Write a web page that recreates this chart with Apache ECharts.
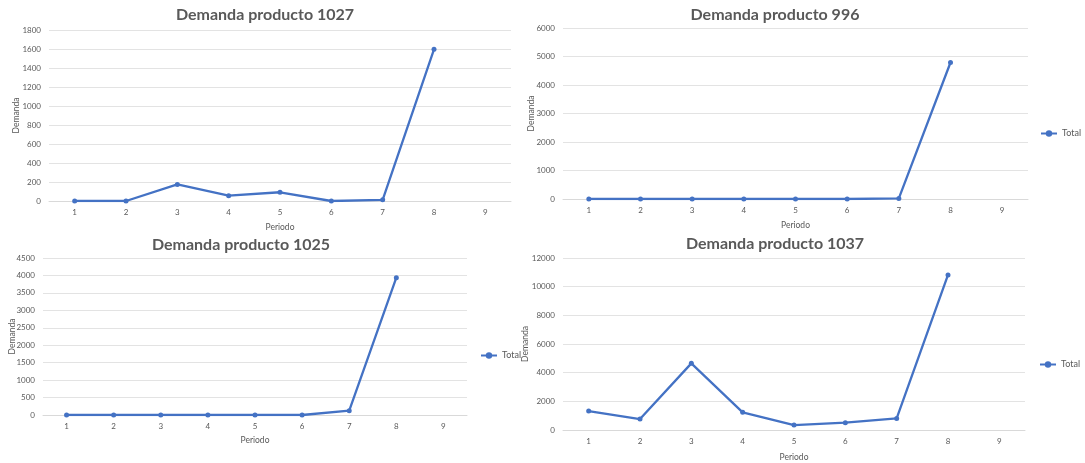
<!DOCTYPE html>
<html>
<head>
<meta charset="utf-8">
<script src="https://cdn.jsdelivr.net/npm/echarts@6/dist/echarts.min.js"></script>
<style>
  html, body { margin: 0; padding: 0; background: #ffffff; }
  #chart { width: 1085px; height: 463px; }
</style>
</head>
<body>
<div id="chart"></div>
<script>
// Periods shared by all four panels
const periodos = ['1', '2', '3', '4', '5', '6', '7', '8', '9'];

// Demand per period (period 9 has no data yet)
const demanda1027 = [0, 0, 175, 56, 92, 0, 12, 1597, null];
const demanda996  = [0, 0, 0, 0, 0, 0, 20, 4790, null];
const demanda1025 = [0, 0, 0, 0, 0, 0, 125, 3935, null];
const demanda1037 = [1320, 765, 4650, 1230, 345, 510, 810, 10820, null];

const titulos = ['Demanda producto 1027', 'Demanda producto 996', 'Demanda producto 1025', 'Demanda producto 1037'];
const series = [demanda1027, demanda996, demanda1025, demanda1037];
const yMax = [1800, 6000, 4500, 12000];
const yStep = [200, 1000, 500, 2000];

// Panel placement: plot box, title centre, axis-name gaps, legend spot
const panels = [
  { left: 49,  top: 30,  width: 462, height: 171, tx: 260, ty: 2,   xGap: 22, yGap: 28, legend: null },
  { left: 563, top: 28,  width: 465, height: 171, tx: 770, ty: 2,   xGap: 22, yGap: 27, legend: { left: 1035, top: 124 } },
  { left: 43,  top: 258, width: 424, height: 157, tx: 236, ty: 232, xGap: 21, yGap: 26, legend: { left: 475, top: 346 } },
  { left: 563, top: 258, width: 462, height: 173, tx: 770, ty: 231, xGap: 23, yGap: 33, legend: { left: 1034, top: 355 } }
];

const FONT = 'Lato, "Open Sans", sans-serif';
const GRAY = '#595959';
const BLUE = '#4472C4';

const option = {
  backgroundColor: '#ffffff',
  animation: false,
  title: panels.map((p, i) => ({
    text: titulos[i],
    left: p.tx,
    top: p.ty,
    textAlign: 'center',
    textStyle: { fontFamily: FONT, fontSize: 16, fontWeight: 'bold', color: GRAY }
  })),
  legend: panels.map((p, i) => p.legend ? ({
    data: ['Total' + i],
    left: p.legend.left,
    top: p.legend.top,
    itemWidth: 16,
    itemHeight: 8,
    itemGap: 2,
    formatter: () => 'Total',
    textStyle: { fontFamily: FONT, fontSize: 9, color: GRAY }
  }) : ({ show: false, data: [] })),
  grid: panels.map(p => ({ left: p.left, top: p.top, width: p.width, height: p.height, containLabel: false })),
  xAxis: panels.map((p, i) => ({
    type: 'category',
    gridIndex: i,
    data: periodos,
    boundaryGap: true,
    name: 'Periodo',
    nameLocation: 'middle',
    nameGap: p.xGap,
    nameMoveOverlap: false,
    nameTextStyle: { fontFamily: FONT, fontSize: 8.5, color: GRAY },
    axisLine: { lineStyle: { color: '#d9d9d9', width: 1 } },
    axisTick: { show: false },
    axisLabel: { fontFamily: FONT, fontSize: 8, color: GRAY, margin: 7 }
  })),
  yAxis: panels.map((p, i) => ({
    type: 'value',
    gridIndex: i,
    min: 0,
    max: yMax[i],
    interval: yStep[i],
    name: 'Demanda',
    nameLocation: 'middle',
    nameGap: p.yGap,
    nameMoveOverlap: false,
    nameTextStyle: { fontFamily: FONT, fontSize: 8.5, color: GRAY },
    axisLine: { show: false },
    axisTick: { show: false },
    axisLabel: { fontFamily: FONT, fontSize: 8, color: GRAY, margin: 8, formatter: v => String(v) },
    splitLine: { lineStyle: { color: '#e3e3e3', width: 1 } }
  })),
  series: series.map((d, i) => ({
    name: 'Total' + i,
    type: 'line',
    xAxisIndex: i,
    yAxisIndex: i,
    data: d,
    symbol: 'circle',
    symbolSize: 5,
    connectNulls: false,
    lineStyle: { color: BLUE, width: 2.3 },
    itemStyle: { color: BLUE }
  }))
};

const chart = echarts.init(document.getElementById('chart'), null, { renderer: 'canvas' });
chart.setOption(option);
</script>
</body>
</html>
